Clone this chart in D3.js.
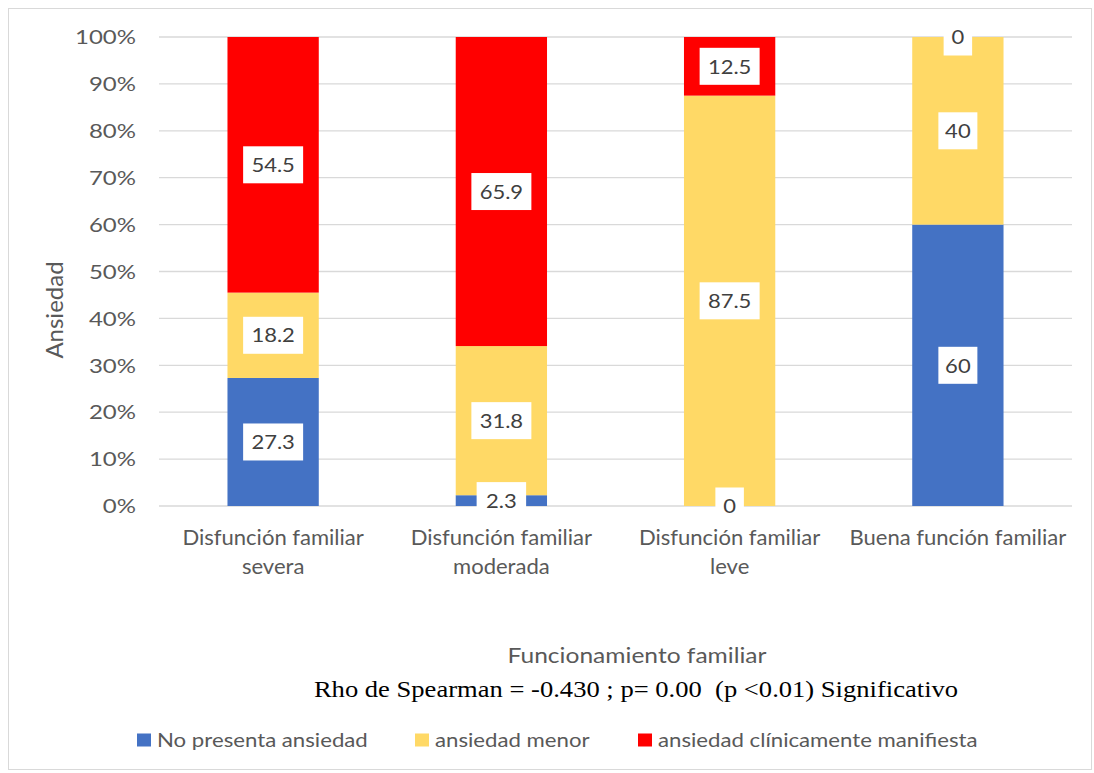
<!DOCTYPE html>
<html><head><meta charset="utf-8">
<script src="https://cdn.jsdelivr.net/npm/d3@7/dist/d3.min.js"></script>
<style>body{margin:0;background:#fff}svg{display:block}</style>
</head><body><svg id="c" width="1094" height="773"></svg>
<script>
const categories = [["Disfunción familiar","severa"],["Disfunción familiar","moderada"],["Disfunción familiar","leve"],["Buena función familiar"]];
const seriesNames = ["No presenta ansiedad","ansiedad menor","ansiedad clínicamente manifiesta"];
const noPresenta = [27.3, 2.3, 0, 60];
const menor = [18.2, 31.8, 87.5, 40];
const clinica = [54.5, 65.9, 12.5, 0];
const colors = ["#4472C4","#FFD966","#FF0000"];
const yTicks = [0,10,20,30,40,50,60,70,80,90,100];

(function(){
const svg = d3.select("#c");
const font = "Lato, 'Open Sans', sans-serif";
function addText(parent, x, y, str, o){
  const t = parent.append("text")
    .attr("transform", `translate(${x},${y}) scale(${o.sx||1},1)`)
    .attr("text-anchor", o.anchor||"middle")
    .attr("font-family", o.family||font).attr("font-size", o.size)
    .attr("fill", o.fill||"#595959");
  if (o.dy) t.attr("dy", o.dy);
  if (o.pre) t.attr("xml:space","preserve").style("white-space","pre");
  t.text(str);
  return t;
}
svg.append("rect").attr("x",8.5).attr("y",8.5).attr("width",1083).attr("height",761).attr("fill","#fff").attr("stroke","#d9d9d9");

const pl=159, pr=1072, pt=37, pb=506;
const x = d3.scaleBand().domain(d3.range(4)).range([pl,pr]).paddingInner(0.6).paddingOuter(0.3);
const y = d3.scaleLinear().domain([0,100]).range([pb,pt]);

svg.append("g").selectAll("line").data(yTicks).join("line")
 .attr("x1",pl).attr("x2",pr).attr("y1",d=>y(d)).attr("y2",d=>y(d))
 .attr("stroke","#d9d9d9").attr("stroke-width",1.3);

const tg = svg.append("g");
yTicks.forEach(d=> addText(tg, 136, y(d), d+"%", {anchor:"end", size:20, sx:1.2, dy:"0.36em"}));

const data = d3.range(4).map(i=>({i, a:noPresenta[i], b:menor[i], c:clinica[i]}));
const stack = d3.stack().keys(["a","b","c"])(data);

const g = svg.append("g");
stack.forEach((s,k)=>{
  g.selectAll(null).data(s).join("rect")
   .attr("x",d=>x(d.data.i)).attr("width",x.bandwidth())
   .attr("y",d=>y(d[1])).attr("height",d=>y(d[0])-y(d[1]))
   .attr("fill",colors[k]);
});

const lab = svg.append("g");
stack.forEach((s,k)=>{
  s.forEach(d=>{
    const v = d.data[["a","b","c"][k]];
    const cx = x(d.data.i)+x.bandwidth()/2;
    const cy = y((d[0]+d[1])/2);
    const txt = String(v);
    const w = txt.length*10.5+18, h=37;
    lab.append("rect").attr("x",cx-w/2).attr("y",cy-h/2).attr("width",w).attr("height",h).attr("fill","#fff");
    addText(lab, cx, cy, txt, {size:20, sx:1.1, dy:"0.36em", fill:"#404040"});
  });
});

const cg = svg.append("g");
categories.forEach((c,i)=>{
  c.forEach((line,j)=> addText(cg, x(i)+x.bandwidth()/2, 545+j*29, line, {size:21, sx:1.05}));
});

svg.append("text").attr("transform","translate(63,310) rotate(-90)").attr("text-anchor","middle")
 .attr("font-family",font).attr("font-size",24).attr("fill","#595959").text("Ansiedad");
addText(svg, 637, 663, "Funcionamiento familiar", {size:21, sx:1.17});
addText(svg, 636, 697, "Rho de Spearman = -0.430 ; p= 0.00  (p <0.01) Significativo",
  {size:23, sx:1.156, family:"'Liberation Serif','Times New Roman',serif", fill:"#000", pre:true});

const legSq=[137,415,638], legTx=[157,435,658];
const lg = svg.append("g");
seriesNames.forEach((n,k)=>{
  lg.append("rect").attr("x",legSq[k]).attr("y",733.5).attr("width",14).attr("height",13).attr("fill",colors[k]);
  addText(lg, legTx[k], 746.5, n, {anchor:"start", size:18.5, sx:1.2});
});
})();
</script></body></html>
